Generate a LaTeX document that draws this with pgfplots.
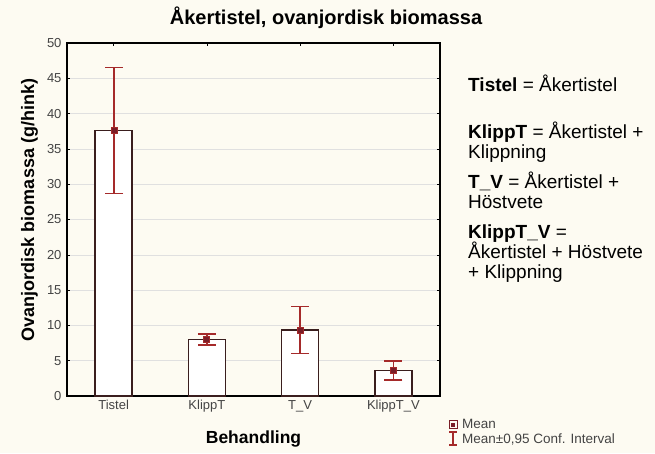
\documentclass[border=0pt]{standalone}
\usepackage{pgfplots}
\pgfplotsset{compat=1.18}
\usetikzlibrary{backgrounds}
\usepackage{fontspec}
\setmainfont{Liberation Sans}
\definecolor{bg}{HTML}{FDFBF2}
\definecolor{ered}{HTML}{A52A2A}
\definecolor{mred}{HTML}{7A1E28}
\definecolor{bardk}{HTML}{3A1E1E}
\definecolor{tk}{HTML}{444444}
\pgfplotsset{
  error bars/error bar style={draw=ered, solid, line width=1.5pt},
  error bars/error mark options={draw=ered, solid, rotate=90, mark size=9pt, line width=1.5pt},
}
\begin{document}
\begin{tikzpicture}[x=1pt,y=1pt]
\begin{axis}[
  scale only axis, width=373pt, height=353pt,
  xmin=-0.5, xmax=3.5, ymin=0, ymax=50,
  xtick={0,1,2,3}, xticklabels={Tistel,KlippT,T\_V,KlippT\_V},
  ytick={0,5,...,50},
  tick align=inside, major tick length=3pt,
  xtick pos=both, ytick pos=both,
  tick style={black, line width=0.6pt},
  ymajorgrids, grid style={black!12, line width=0.6pt},
  axis line style={black, line width=1.2pt},
  axis background/.style={fill=bg},
  tick label style={font=\fontsize{13}{15}\selectfont, text=tk},
  /pgf/number format/assume math mode=true,
  xticklabel style={yshift=-1pt},
  yticklabel style={xshift=-2pt},
  clip=false,
]
\addplot[ybar, bar width=37pt, draw=bardk, fill=white, line width=1.6pt] coordinates {
 (0,37.6) (1,8.0) (2,9.35) (3,3.6)};
\addplot[ered, line width=1.5pt, only marks, mark=square*, mark size=3pt,
  mark options={fill=mred, draw=ered, line width=0.8pt},
  error bars/.cd, y dir=both, y explicit]
 coordinates {
 (0.006,37.6) +- (0,8.9)
 (1,8.0) +- (0,0.8)
 (2,9.35) +- (0,3.3)
 (3,3.6) +- (0,1.35)};
\coordinate (ll) at (rel axis cs:0,0);
\end{axis}
\coordinate (O) at ([shift={(-67pt,-57pt)}]ll);
\begin{scope}[shift={(O)}]
\begin{scope}[on background layer]
\fill[bg] (0,0) rectangle (655,453);
\end{scope}
\node[font=\fontsize{20}{22}\selectfont\bfseries, anchor=base] at (326,428) {Åkertistel, ovanjordisk biomassa};
\node[font=\fontsize{17.5}{19}\selectfont\bfseries, anchor=base] at (253.5,10) {Behandling};
\node[font=\fontsize{18}{20}\selectfont\bfseries, anchor=base, rotate=90] at (34,243) {Ovanjordisk biomassa (g/hink)};
\begin{scope}[every node/.style={anchor=base west, inner sep=0pt, font=\fontsize{19}{21}\selectfont}]
\node at (468,361.5) {\textbf{Tistel} = Åkertistel};
\node at (468,314.5) {\textbf{KlippT} = Åkertistel +};
\node at (468,294.5) {Klippning};
\node at (468,264.5) {\textbf{T\_V} = Åkertistel +};
\node at (468,244.5) {Höstvete};
\node at (468,214.5) {\textbf{KlippT\_V} =};
\node at (468,194.5) {Åkertistel + Höstvete};
\node at (468,174.5) {+ Klippning};
\end{scope}
% legend
\draw[mred, line width=1pt, fill=bg] (449,24.5) rectangle (457,32.5);
\fill[mred] (451,26.5) rectangle (455,30.5);
\draw[ered, line width=1.3pt] (453,8) -- (453,21) (449,8) -- (457,8) (449,21) -- (457,21);
\begin{scope}[every node/.style={anchor=base west, inner sep=0pt, font=\fontsize{13.5}{14}\selectfont, text=tk}]
\node at (462,24.5) {Mean};
\node at (462,10) {Mean±0,95 Conf. Interval};
\end{scope}
\end{scope}
\end{tikzpicture}
\end{document}
